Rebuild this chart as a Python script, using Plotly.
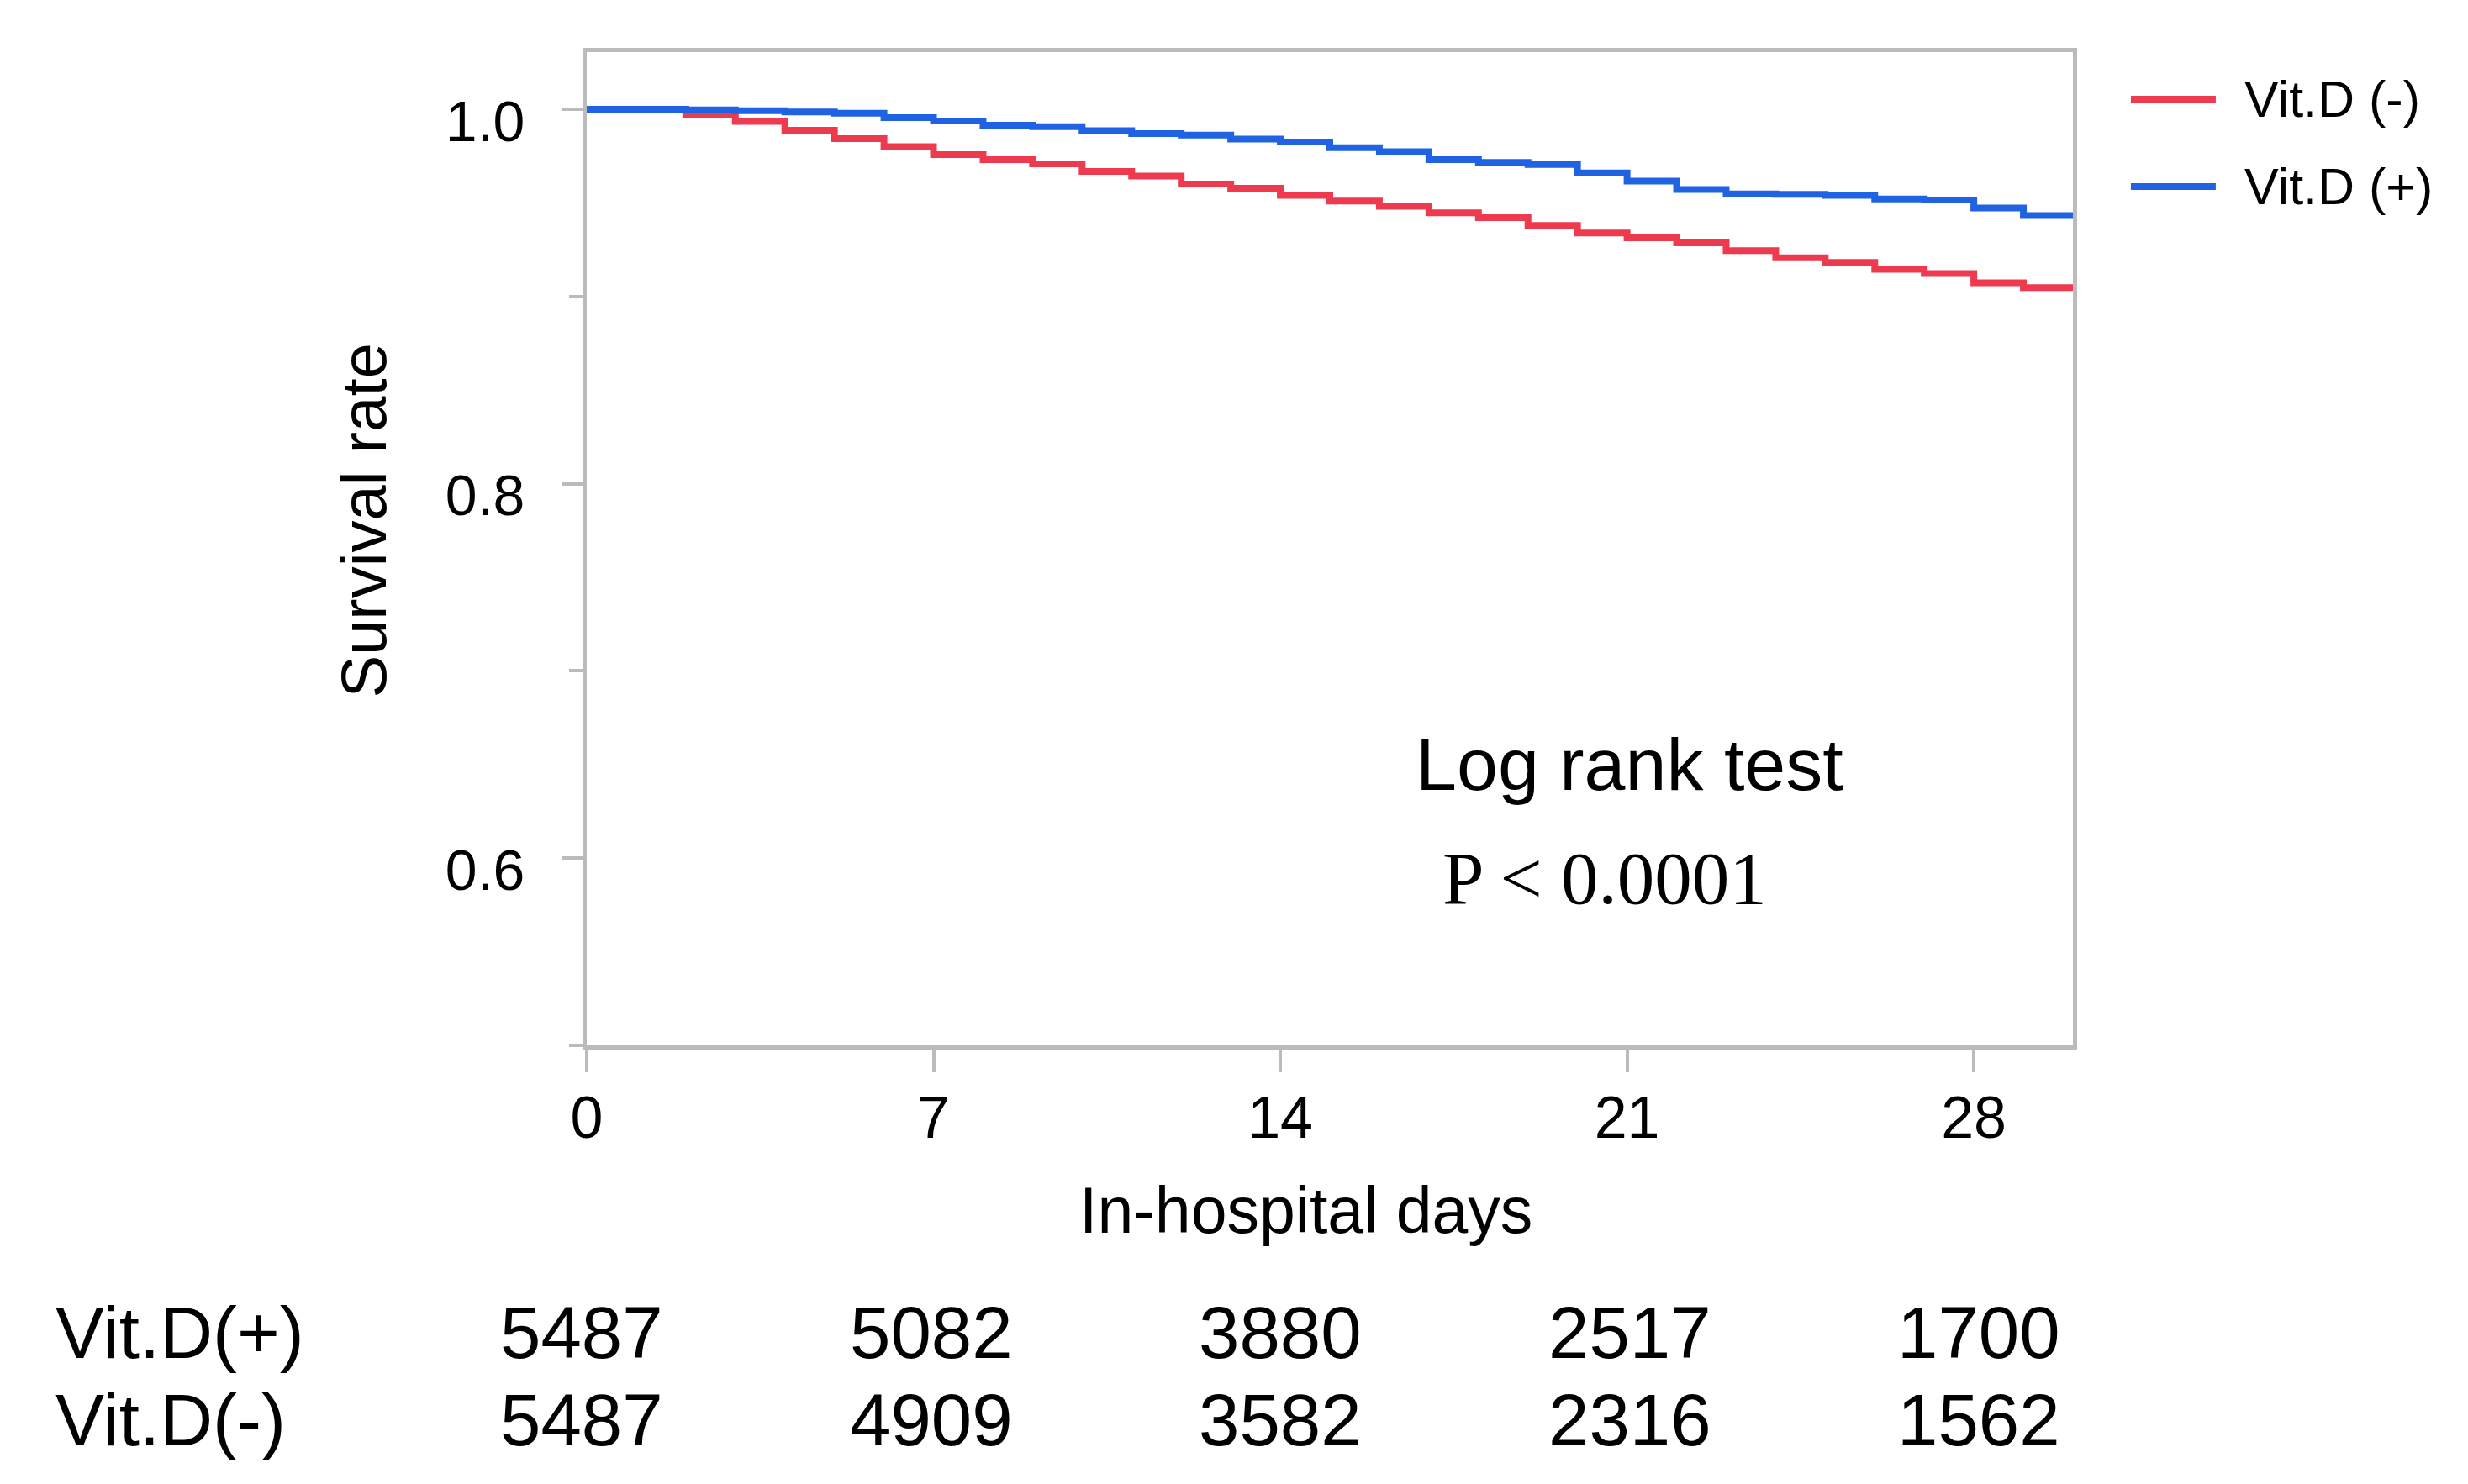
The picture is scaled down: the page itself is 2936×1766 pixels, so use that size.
import plotly.graph_objects as go

# ---------------- data ----------------
days = list(range(31))
vitd_neg = [1.0, 1.0, 0.9972, 0.9935, 0.9888, 0.9843, 0.9800, 0.9757, 0.9730, 0.9708,
            0.9668, 0.9643, 0.9600, 0.9578, 0.9540, 0.9510, 0.9481, 0.9447, 0.9421, 0.9379,
            0.9339, 0.9313, 0.9286, 0.9245, 0.9207, 0.9182, 0.9145, 0.9122, 0.9073, 0.9047,
            0.9040]
vitd_pos = [1.0, 1.0, 0.9996, 0.9992, 0.9985, 0.9979, 0.9955, 0.9937, 0.9914, 0.9907,
            0.9885, 0.9870, 0.9862, 0.9840, 0.9825, 0.9795, 0.9773, 0.9730, 0.9716, 0.9705,
            0.9660, 0.9616, 0.9571, 0.9548, 0.9545, 0.9540, 0.9521, 0.9515, 0.9473, 0.9432,
            0.9430]
series_names = ["Vit.D (-)", "Vit.D (+)"]
series_colors = ["#EE3A4E", "#1F62E2"]

x_ticks = [0, 7, 14, 21, 28]
y_ticks = [0.6, 0.8, 1.0]
y_tick_text = ["0.6", "0.8", "1.0"]
y_minor = [0.5, 0.7, 0.9]

risk_days = [0, 7, 14, 21, 28]
risk_labels = ["Vit.D(+)", "Vit.D(-)"]
risk_pos = [5487, 5082, 3880, 2517, 1700]
risk_neg = [5487, 4909, 3582, 2316, 1562]

x_title = "In-hospital days"
y_title = "Survival rate"
test_name = "Log rank test"
p_text = "P < 0.0001"

# ---------------- figure ----------------
SANS = "Arial, Liberation Sans, sans-serif"
SERIF = "Times New Roman, Liberation Serif, serif"
GRAY = "#BBBBBB"

fig = go.Figure()
for name, ys, col in zip(series_names, [vitd_neg, vitd_pos], series_colors):
    fig.add_trace(go.Scatter(x=days, y=ys, mode="lines", name=name,
                             line=dict(color=col, width=8, shape="hv"),
                             showlegend=False))

fig.update_layout(
    width=2936, height=1766,
    margin=dict(l=698, r=470, t=62, b=522),
    paper_bgcolor="white", plot_bgcolor="white",
    font=dict(family=SANS, color="black"),
)
fig.update_xaxes(range=[0, 30], tickvals=x_ticks, ticks="outside", ticklen=27,
                 tickwidth=4, tickcolor=GRAY, showline=True, linecolor=GRAY,
                 linewidth=5, mirror=True, showgrid=False, zeroline=False,
                 tickfont=dict(size=70, family=SANS), ticklabelstandoff=-6)
fig.update_yaxes(range=[0.5, 1.0305], tickvals=y_ticks, ticktext=y_tick_text,
                 ticks="outside", ticklen=25, tickwidth=4, tickcolor=GRAY,
                 minor=dict(tickvals=y_minor, ticks="outside", ticklen=16,
                            tickwidth=4, tickcolor=GRAY),
                 showline=True, linecolor=GRAY, linewidth=5, mirror=True,
                 showgrid=False, zeroline=False,
                 tickfont=dict(size=68, family=SANS), ticklabelstandoff=30,
                 ticklabelshift=14)

ann = []
# axis titles
ann.append(dict(text=y_title, xref="paper", yref="paper", x=-0.1507, y=0.5279,
                textangle=-90, showarrow=False, xanchor="center", yanchor="middle",
                font=dict(size=76, family=SANS)))
ann.append(dict(text=x_title, xref="paper", yref="paper", x=0.4836, y=-0.1658,
                showarrow=False, xanchor="center", yanchor="middle",
                font=dict(size=77, family=SANS)))
# test annotation
ann.append(dict(text=test_name, xref="paper", yref="paper", x=0.7014, y=0.2826,
                showarrow=False, xanchor="center", yanchor="middle",
                font=dict(size=88, family=SANS)))
ann.append(dict(text=p_text, xref="paper", yref="paper", x=0.6850, y=0.1684,
                showarrow=False, xanchor="center", yanchor="middle",
                font=dict(size=89, family=SERIF)))
# legend (manual)
leg_y = [0.9526, 0.8646]
shapes = []
for name, col, yy in zip(series_names, series_colors, leg_y):
    shapes.append(dict(type="line", xref="paper", yref="paper", x0=1.039, x1=1.0961,
                       y0=yy, y1=yy, line=dict(color=col, width=8)))
    ann.append(dict(text=name, xref="paper", yref="paper", x=1.1143, y=yy,
                    showarrow=False, xanchor="left", yanchor="middle",
                    font=dict(size=61, family=SANS)))
# numbers at risk
row_y = [-0.2889, -0.3773]
for lab, vals, yy in zip(risk_labels, [risk_pos, risk_neg], row_y):
    ann.append(dict(text=lab, xref="paper", yref="paper", x=-0.3585, y=yy,
                    showarrow=False, xanchor="left", yanchor="middle",
                    font=dict(size=87, family=SANS)))
    for i, (d, v) in enumerate(zip(risk_days, vals)):
        ann.append(dict(text=str(v), xref="x", yref="paper", x=d, y=yy,
                        showarrow=False, xanchor="center", yanchor="middle",
                        xshift=-6 + 3 * i, font=dict(size=87, family=SANS)))

fig.update_layout(annotations=ann, shapes=shapes)

fig.write_html("out.html", config={"displayModeBar": False},
               post_script="document.body.style.margin='0';document.body.style.overflow='hidden';")
